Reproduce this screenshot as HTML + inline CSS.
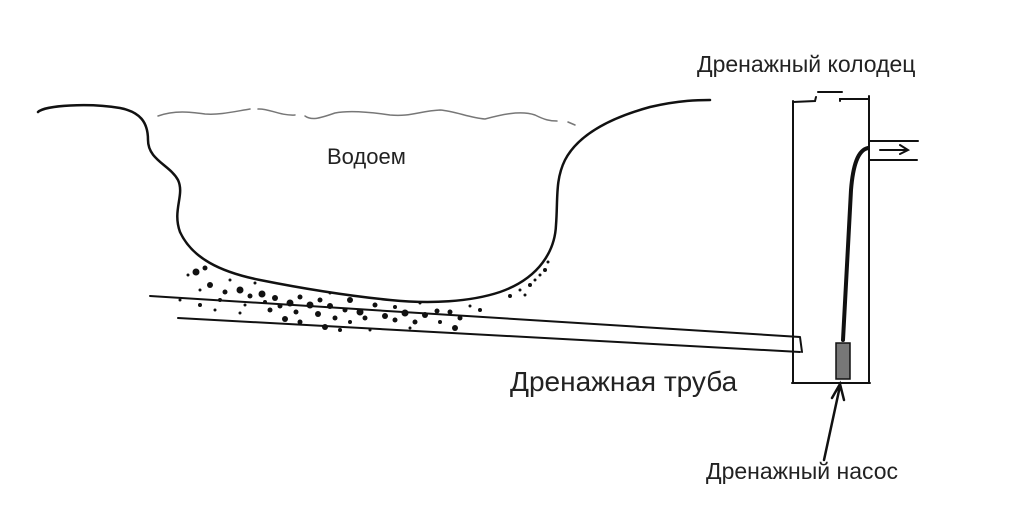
<!DOCTYPE html><html><head><meta charset="utf-8"><style>body{margin:0;background:#fff}svg{display:block}text{font-family:"Liberation Sans",sans-serif;fill:#222}</style></head><body>
<svg width="1024" height="527" viewBox="0 0 1024 527">
<g fill="none" stroke="#111" stroke-linecap="round">
<path stroke-width="2.5" d="M38,112 C45,105 90,103 120,108 C140,112 148,122 148,140 C148,160 170,165 178,180 C185,195 172,210 180,232 C192,258 220,272 260,280 C320,292 360,297 390,300 C430,304 470,302 500,292 C540,278 555,250 556,225 C558,200 555,180 565,160 C578,135 610,118 650,107 C680,100 700,100 710,100"/>
<path stroke="#777" stroke-width="1.5" d="M158,116 C175,110 190,112 205,114 C220,115 232,112 250,109 M258,109 C268,108 280,116 295,115 M305,116 C312,121 320,118 335,113 C350,110 370,112 390,115 C410,117 420,111 440,110 C455,111 470,118 485,119 C500,115 520,110 535,115 C545,120 550,121 557,121 M568,122 L575,125"/>
<path stroke-width="2" d="M150,296 L800,337 M178,318 L800,352 M800,337 L802,352"/>
<path stroke-width="2" d="M793,101 L793,383 M869,96 L869,383 M792,383 L870,383 M793,102 L815,101 L816,97 M840,101 L840,99 L869,99 M818,92 L842,92"/>
<path stroke-width="2" d="M870,141 L918,141 M870,160 L917,160 M880,150 L906,150 M900,145 L908,150 L900,154"/>
<path stroke-width="4" d="M868,148 C858,150 853,165 851,190 L843,340"/>
<path stroke-width="2.5" d="M824,460 L840,386 M832,398 L840,384 L844,400"/>
</g>
<rect x="836" y="343" width="14" height="36" fill="#777" stroke="#111" stroke-width="1.5"/>
<g fill="#111">
<circle cx="196" cy="272" r="3.5"/><circle cx="205" cy="268" r="2.5"/><circle cx="188" cy="275" r="1.5"/><circle cx="210" cy="285" r="3"/><circle cx="225" cy="292" r="2.5"/><circle cx="240" cy="290" r="3.5"/><circle cx="250" cy="296" r="2.5"/><circle cx="262" cy="294" r="3.5"/><circle cx="275" cy="298" r="3"/><circle cx="290" cy="303" r="3.5"/><circle cx="300" cy="297" r="2.5"/><circle cx="310" cy="305" r="3.5"/><circle cx="320" cy="300" r="2.5"/><circle cx="296" cy="312" r="2.5"/><circle cx="285" cy="319" r="3"/><circle cx="300" cy="322" r="2.5"/><circle cx="325" cy="327" r="3"/><circle cx="335" cy="318" r="2.5"/><circle cx="345" cy="310" r="2.5"/><circle cx="360" cy="312" r="3.5"/><circle cx="375" cy="305" r="2.5"/><circle cx="385" cy="316" r="3"/><circle cx="395" cy="320" r="2.5"/><circle cx="405" cy="313" r="3.5"/><circle cx="415" cy="322" r="2.5"/><circle cx="425" cy="315" r="3"/><circle cx="437" cy="311" r="2.5"/><circle cx="450" cy="312" r="2.5"/><circle cx="460" cy="318" r="2.5"/><circle cx="455" cy="328" r="3"/><circle cx="470" cy="306" r="1.5"/><circle cx="480" cy="310" r="2"/><circle cx="200" cy="305" r="2"/><circle cx="215" cy="310" r="1.5"/><circle cx="240" cy="313" r="1.5"/><circle cx="340" cy="330" r="2"/><circle cx="370" cy="330" r="1.5"/><circle cx="510" cy="296" r="2"/><circle cx="520" cy="290" r="1.5"/><circle cx="535" cy="280" r="1.5"/><circle cx="545" cy="270" r="2"/><circle cx="548" cy="262" r="1.5"/><circle cx="230" cy="280" r="1.5"/><circle cx="255" cy="283" r="1.5"/><circle cx="330" cy="293" r="1.5"/><circle cx="350" cy="300" r="3"/><circle cx="420" cy="303" r="1.5"/><circle cx="180" cy="300" r="1.5"/><circle cx="270" cy="310" r="2.5"/><circle cx="318" cy="314" r="3"/><circle cx="280" cy="306" r="2.5"/><circle cx="265" cy="302" r="2"/><circle cx="330" cy="306" r="3"/><circle cx="365" cy="318" r="2.5"/><circle cx="395" cy="307" r="2"/><circle cx="440" cy="322" r="2"/><circle cx="220" cy="300" r="2"/><circle cx="245" cy="305" r="1.5"/><circle cx="350" cy="322" r="2"/><circle cx="410" cy="328" r="1.5"/><circle cx="200" cy="290" r="1.5"/><circle cx="525" cy="295" r="1.5"/><circle cx="530" cy="285" r="2"/><circle cx="540" cy="275" r="1.5"/>
</g>
<text x="697" y="72" font-size="23">Дренажный колодец</text>
<text x="327" y="164" font-size="22">Водоем</text>
<text x="510" y="391" font-size="28">Дренажная труба</text>
<text x="706" y="479" font-size="23">Дренажный насос</text>
</svg></body></html>
